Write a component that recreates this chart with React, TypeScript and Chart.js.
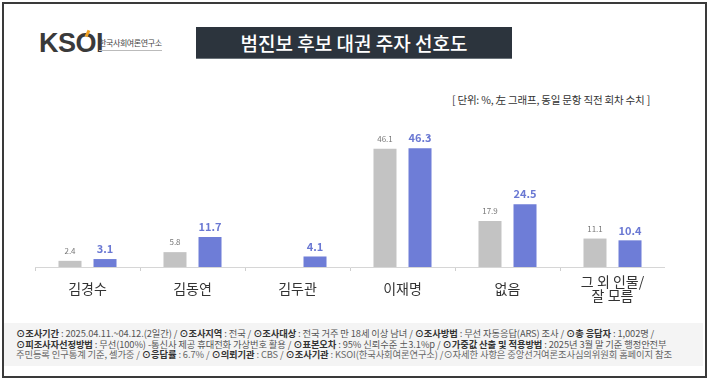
import React, { useEffect, useRef } from 'react';
import { Chart, registerables } from 'chart.js';

Chart.register(...registerables);

const categories: (string | string[])[] = ['김경수', '김동연', '김두관', '이재명', '없음', ['그 외 인물/', '잘 모름']];
const prevValues: (number | null)[] = [2.4, 5.8, null, 46.1, 17.9, 11.1];
const currValues: number[] = [3.1, 11.7, 4.1, 46.3, 24.5, 10.4];
const seriesNames = ['직전 회차', '이번 조사'];

const title = '범진보 후보 대권 주자 선호도';
const unitNote = '[ 단위: %, 左 그래프, 동일 문항 직전 회차 수치 ]';

const KR = '"Noto Sans CJK KR", "Noto Sans", sans-serif';

const GREY = '#c3c3c3';
const BLUE = '#6e7dd7';

const labelPlugin = {
  id: 'valueLabels',
  afterDatasetsDraw(chart: any) {
    const ctx = chart.ctx;
    ctx.save();
    chart.data.datasets.forEach((ds: any, di: number) => {
      const meta = chart.getDatasetMeta(di);
      meta.data.forEach((bar: any, i: number) => {
        const v = ds.data[i];
        if (v === null || v === undefined) return;
        ctx.textAlign = 'center';
        ctx.textBaseline = 'middle';
        if (di === 0) {
          ctx.font = `8px ${KR}`;
          ctx.fillStyle = '#777';
        } else {
          ctx.font = `bold 11px ${KR}`;
          ctx.fillStyle = '#6a78d3';
        }
        ctx.fillText(v.toFixed(1), bar.x, bar.y - 10);
      });
    });
    ctx.restore();
  },
};

function BarChart() {
  const ref = useRef<HTMLCanvasElement | null>(null);
  useEffect(() => {
    if (!ref.current) return;
    const chart = new Chart(ref.current, {
      type: 'bar',
      data: {
        labels: categories as any,
        datasets: [
          {
            label: seriesNames[0],
            data: prevValues as any,
            backgroundColor: GREY,
            categoryPercentage: 0.667,
            barPercentage: 0.657,
          },
          {
            label: seriesNames[1],
            data: currValues,
            backgroundColor: BLUE,
            categoryPercentage: 0.667,
            barPercentage: 0.657,
          },
        ],
      },
      options: {
        animation: false,
        responsive: false,
        maintainAspectRatio: false,
        layout: { padding: { top: 16, left: 0, right: 0, bottom: 0 } },
        plugins: { legend: { display: false }, tooltip: { enabled: false } },
        scales: {
          x: {
            afterFit: (scale: any) => {
              scale.height = 47;
            },
            border: { display: true, color: '#d6d6d6', width: 1 },
            grid: { drawOnChartArea: false, drawTicks: true, tickLength: 4, color: '#cfcfcf', offset: true },
            ticks: {
              crossAlign: 'center',
              padding: 11,
              maxRotation: 0,
              autoSkip: false,
              color: '#333',
              font: { size: 14, family: KR, lineHeight: 1.0 },
            },
          },
          y: { display: false, min: 0, max: 55 },
        },
      } as any,
      plugins: [labelPlugin],
    });
    return () => chart.destroy();
  }, []);
  return (
    <canvas
      ref={ref}
      width={630}
      height={204}
      style={{ position: 'absolute', left: 35, top: 110, width: 630, height: 204 }}
    />
  );
}

const footerLines: { b?: string; t: string }[][] = [
  [
    { b: '⊙조사기간', t: ' : 2025.04.11.~04.12.(2일간)  / ' },
    { b: '⊙조사지역', t: ' : 전국 / ' },
    { b: '⊙조사대상', t: ' : 전국 거주 만 18세 이상 남녀 / ' },
    { b: '⊙조사방법', t: ' : 무선 자동응답(ARS) 조사 / ' },
    { b: '⊙총 응답자', t: ' : 1,002명 /' },
  ],
  [
    { b: '⊙피조사자선정방법', t: ' : 무선(100%) -통신사 제공 휴대전화 가상번호 활용 / ' },
    { b: '⊙표본오차', t: ' : 95% 신뢰수준 ±3.1%p / ' },
    { b: '⊙가중값 산출 및 적용방법', t: ' : 2025년 3월 말 기준 행정안전부' },
  ],
  [
    { t: '주민등록 인구통계 기준, 셀가중 / ' },
    { b: '⊙응답률', t: ' : 6.7% / ' },
    { b: '⊙의뢰기관', t: ' : CBS / ' },
    { b: '⊙조사기관', t: ' : KSOI(한국사회여론연구소) /' },
    { t: '⊙자세한 사항은 중앙선거여론조사심의위원회 홈페이지 참조' },
  ],
];

export default function App() {
  useEffect(() => {
    document.body.style.margin = '0';
  }, []);
  return (
    <div
      style={{
        position: 'fixed',
        left: 0,
        top: 0,
        width: 710,
        height: 381,
        background: '#fff',
        overflow: 'hidden',
        fontFamily: KR,
      }}
    >
      {/* frame */}
      <div
        style={{
          position: 'absolute',
          left: 2,
          top: 2,
          width: 701,
          height: 372,
          border: '2px solid #3a3a3a',
        }}
      />
      {/* logo */}
      <div
        style={{
          position: 'absolute',
          left: 39,
          top: 28,
          fontFamily: '"Liberation Sans", Arial, sans-serif',
          fontWeight: 700,
          fontSize: 27,
          letterSpacing: -0.5,
          color: '#3a3a3a',
          lineHeight: '30px',
        }}
      >
        KSOI
      </div>
      <div
        style={{
          position: 'absolute',
          left: 86,
          top: 30,
          width: 3,
          height: 7,
          background: '#f0a020',
          transform: 'rotate(25deg)',
        }}
      />
      <div
        style={{
          position: 'absolute',
          left: 99,
          top: 38,
          fontSize: 8,
          color: '#444',
          lineHeight: '10px',
          paddingBottom: 2,
          borderBottom: '1px solid #bbb',
          letterSpacing: -0.4,
        }}
      >
        한국사회여론연구소
      </div>
      {/* title */}
      <div
        style={{
          position: 'absolute',
          left: 196,
          top: 27,
          width: 316,
          height: 31,
          background: '#2c343d',
          borderBottom: '1px solid #6b737a',
          color: '#fff',
          fontSize: 19,
          fontWeight: 500,
          lineHeight: '31px',
          textAlign: 'center',
        }}
      >
        {title}
      </div>
      {/* unit note */}
      <div
        style={{
          position: 'absolute',
          right: 60,
          top: 93,
          fontSize: 10.5,
          color: '#333',
          lineHeight: '14px',
          whiteSpace: 'nowrap',
          letterSpacing: -0.2,
        }}
      >
        {unitNote}
      </div>
      <BarChart />
      {/* footer */}
      <div
        style={{
          position: 'absolute',
          left: 4,
          top: 323,
          width: 699,
          height: 43,
          background: '#f4f4f4',
        }}
      />
      <div style={{ position: 'absolute', left: 16, top: 328 }}>
        {footerLines.map((line, li) => (
          <div
            key={li}
            style={{
              fontSize: 9.3,
              lineHeight: '10.5px',
              whiteSpace: 'nowrap',
              color: li === 2 ? '#666' : '#555',
              letterSpacing: -0.1,
            }}
          >
            {line.map((seg, si) => (
              <span key={si}>
                {seg.b ? <b style={{ color: '#333' }}>{seg.b}</b> : null}
                {seg.t}
              </span>
            ))}
          </div>
        ))}
      </div>
    </div>
  );
}
